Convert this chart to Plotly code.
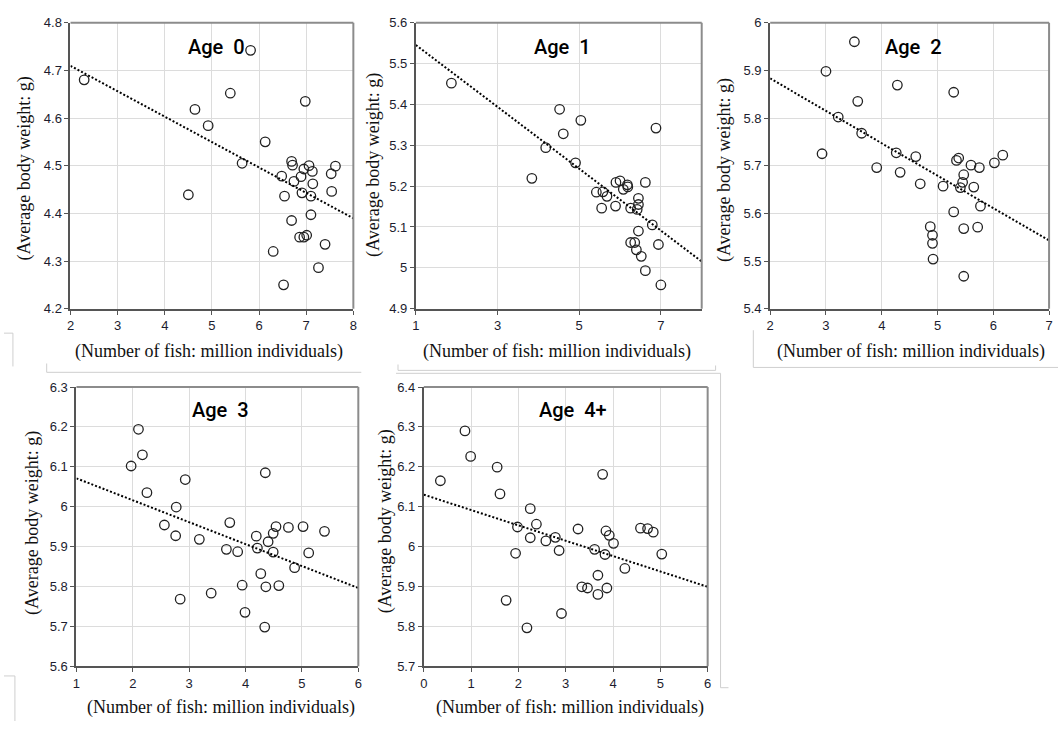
import plotly.graph_objects as go

W, H = 1062, 729

# ---- Age 0 ----
age0_fish = [2.29, 5.82, 4.64, 5.39, 4.92, 6.98, 6.13, 5.64, 4.50, 6.69, 6.71, 6.48,
             6.74, 6.89, 6.95, 7.06, 7.13, 7.14, 6.91, 6.54, 7.10, 7.53, 7.62, 7.54,
             7.10, 6.69, 6.86, 6.95, 7.01, 7.40, 6.30, 7.26, 6.52]
age0_weight = [4.680, 4.742, 4.618, 4.652, 4.584, 4.635, 4.550, 4.505, 4.439, 4.509, 4.501, 4.478,
               4.467, 4.477, 4.493, 4.500, 4.488, 4.462, 4.443, 4.436, 4.436, 4.483, 4.499, 4.446,
               4.397, 4.385, 4.350, 4.350, 4.354, 4.335, 4.320, 4.286, 4.250]
age0_trend = [4.816, -0.0533]   # intercept, slope

# ---- Age 1 ----
age1_fish = [1.87, 4.52, 5.04, 4.61, 4.18, 6.88, 3.84, 4.91, 5.90, 6.00, 6.18, 6.19,
             6.62, 6.08, 5.42, 5.58, 5.68, 6.45, 5.55, 5.89, 6.26, 6.45, 6.42, 6.79,
             6.45, 6.26, 6.36, 6.40, 6.52, 6.94, 6.62, 7.00]
age1_weight = [5.452, 5.388, 5.361, 5.328, 5.294, 5.342, 5.219, 5.257, 5.209, 5.213, 5.203, 5.198,
               5.209, 5.192, 5.185, 5.186, 5.175, 5.170, 5.146, 5.151, 5.146, 5.155, 5.143, 5.105,
               5.090, 5.062, 5.062, 5.044, 5.028, 5.057, 4.993, 4.958]
age1_trend = [5.621, -0.0757]

# ---- Age 2 ----
age2_fish = [3.51, 3.00, 4.28, 5.29, 3.57, 3.22, 3.64, 2.93, 4.26, 4.61, 3.91, 4.33,
             4.69, 5.10, 5.38, 5.34, 5.60, 5.75, 6.02, 6.17, 5.47, 5.45, 5.41, 5.65,
             5.77, 5.29, 4.87, 4.91, 4.91, 4.92, 5.47, 5.72, 5.47]
age2_weight = [5.960, 5.898, 5.869, 5.854, 5.835, 5.802, 5.768, 5.725, 5.727, 5.719, 5.696, 5.686,
               5.662, 5.657, 5.716, 5.711, 5.701, 5.696, 5.706, 5.722, 5.681, 5.665, 5.654, 5.655,
               5.615, 5.603, 5.572, 5.554, 5.537, 5.504, 5.568, 5.571, 5.468]
age2_trend = [6.019, -0.068]

# ---- Age 3 ----
age3_fish = [2.10, 2.17, 1.97, 2.93, 2.25, 4.35, 2.77, 2.56, 2.76, 3.18, 3.72, 3.66,
             3.86, 4.19, 4.21, 4.40, 4.49, 4.54, 4.76, 5.02, 5.40, 4.49, 4.87, 5.12,
             4.27, 3.94, 4.36, 4.59, 3.39, 2.84, 3.99, 4.34]
age3_weight = [6.194, 6.130, 6.102, 6.068, 6.035, 6.085, 5.999, 5.954, 5.927, 5.918, 5.960, 5.893,
               5.887, 5.926, 5.896, 5.912, 5.933, 5.950, 5.948, 5.950, 5.938, 5.886, 5.847, 5.884,
               5.832, 5.803, 5.799, 5.802, 5.783, 5.768, 5.735, 5.698]
age3_trend = [6.126, -0.055]

# ---- Age 4+ ----
age4_fish = [0.35, 0.87, 0.99, 1.55, 1.61, 2.25, 1.98, 2.38, 2.25, 2.58, 2.78, 2.86,
             1.94, 3.26, 3.85, 3.92, 4.01, 3.61, 3.83, 3.78, 4.58, 4.73, 4.85, 5.03,
             4.25, 3.68, 3.34, 3.46, 3.68, 3.87, 1.74, 2.91, 2.18]
age4_weight = [6.165, 6.290, 6.226, 6.199, 6.132, 6.095, 6.049, 6.056, 6.022, 6.014, 6.023, 5.990,
               5.983, 6.044, 6.039, 6.028, 6.008, 5.993, 5.980, 6.181, 6.046, 6.045, 6.036, 5.981,
               5.945, 5.928, 5.899, 5.896, 5.880, 5.896, 5.865, 5.832, 5.796]
age4_trend = [6.130, -0.0385]

panel_titles = ["Age  0", "Age  1", "Age  2", "Age  3", "Age  4+"]
x_title = "(Number of fish: million individuals)"
y_title = "(Average body weight: g)"

# panel geometry in pixels: plot-area box, axis ranges and tick steps
panels = [
    dict(fish=age0_fish, weight=age0_weight, trend=age0_trend,
         box=(67, 16, 352, 308), xr=(2, 8), xd=1, yr=(4.2, 4.8),
         title=(214, 41), ytitle=(21, 165), xtitle=(207, 352)),
    dict(fish=age1_fish, weight=age1_weight, trend=age1_trend,
         box=(415, 16, 703, 308), xr=(1, 8), xd=2, yr=(4.9, 5.6),
         title=(563, 41), ytitle=(372, 161), xtitle=(557, 352)),
    dict(fish=age2_fish, weight=age2_weight, trend=age2_trend,
         box=(772, 16, 1053, 308), xr=(2, 7), xd=1, yr=(5.4, 6.0),
         title=(916, 41), ytitle=(726, 167), xtitle=(914, 352)),
    dict(fish=age3_fish, weight=age3_weight, trend=age3_trend,
         box=(73, 388, 357, 673), xr=(1, 6), xd=1, yr=(5.6, 6.3),
         title=(218, 411), ytitle=(28, 527), xtitle=(219, 715)),
    dict(fish=age4_fish, weight=age4_weight, trend=age4_trend,
         box=(423, 388, 709, 673), xr=(0, 6), xd=1, yr=(5.7, 6.4),
         title=(573, 411), ytitle=(384, 525), xtitle=(570, 715)),
]


def px(x):
    return x / W


def py(y):
    return 1 - y / H


TICK_FONT = dict(family="Liberation Sans, Arial, sans-serif", size=13, color="#1c1c2e")
TITLE_FONT = dict(family="Roboto, Liberation Sans, sans-serif", size=20, color="#000000",
                  weight=500)
SERIF = dict(family="Liberation Serif, Times New Roman, serif", size=18, color="#111111")

fig = go.Figure()
annotations = []
shapes = []

for i, p in enumerate(panels, start=1):
    sx = "" if i == 1 else str(i)
    xa, ya = "x" + sx, "y" + sx
    x0, y0, x1, y1 = p["box"]

    fig.add_trace(go.Scatter(
        x=p["fish"], y=p["weight"], xaxis=xa, yaxis=ya, mode="markers",
        marker=dict(symbol="circle-open", size=9.5, color="#222222", line=dict(width=1.3)),
        showlegend=False, hoverinfo="x+y"))

    a, b = p["trend"]
    tx = list(p["xr"])
    fig.add_trace(go.Scatter(
        x=tx, y=[a + b * v for v in tx], xaxis=xa, yaxis=ya, mode="lines",
        line=dict(color="#000000", width=2, dash="2px,2px"),
        showlegend=False, hoverinfo="skip"))

    xk = "xaxis" + sx
    yk = "yaxis" + sx
    fig.layout[xk] = dict(
        domain=[px(x0), px(x1)], anchor=ya, range=list(p["xr"]),
        tick0=p["xr"][0], dtick=p["xd"], showgrid=True, gridcolor="#dcdcdc", gridwidth=1,
        showline=True, linecolor="#555555", linewidth=2, zeroline=False,
        ticks="outside", ticklen=4, tickcolor="#555555", tickwidth=1,
        tickfont=TICK_FONT, fixedrange=True)
    fig.layout[yk] = dict(
        domain=[py(y1), py(y0)], anchor=xa, range=list(p["yr"]),
        tick0=p["yr"][0], dtick=0.1, showgrid=True, gridcolor="#dcdcdc", gridwidth=1,
        showline=True, linecolor="#555555", linewidth=2, zeroline=False,
        ticks="outside", ticklen=4, tickcolor="#555555", tickwidth=1,
        tickfont=TICK_FONT, fixedrange=True)

    # top and right frame of the plot area
    shapes.append(dict(type="line", xref=xa + " domain", yref=ya + " domain",
                       x0=0, x1=1, y0=1, y1=1, line=dict(color="#8c8c8c", width=2)))
    shapes.append(dict(type="line", xref=xa + " domain", yref=ya + " domain",
                       x0=1, x1=1, y0=0, y1=1, line=dict(color="#8c8c8c", width=2)))

    tx_, ty_ = p["title"]
    annotations.append(dict(text=panel_titles[i - 1], x=px(tx_), y=py(ty_), xref="paper", yref="paper",
                            showarrow=False, xanchor="center", yanchor="middle", font=TITLE_FONT))
    yx, yy = p["ytitle"]
    annotations.append(dict(text=y_title, x=px(yx), y=py(yy), xref="paper", yref="paper",
                            showarrow=False, xanchor="center", yanchor="middle", textangle=-90,
                            font=SERIF))
    xx, xy = p["xtitle"]
    annotations.append(dict(text=x_title, x=px(xx), y=py(xy), xref="paper", yref="paper",
                            showarrow=False, xanchor="center", yanchor="middle", font=SERIF))

# light frame edges around the individual panels
frame_lines = [
    ((0, 333), (9, 333)), ((9, 333), (9, 367)),
    ((43, 364), (43, 373)), ((43, 373), (360, 373)),
    ((397, 365), (397, 371)), ((397, 371), (717, 371)), ((717, 366), (717, 371)),
    ((395, 374), (722, 374)), ((722, 374), (722, 695)), ((722, 695), (730, 695)),
    ((755, 330), (755, 368)), ((755, 368), (1062, 368)),
    ((0, 683), (11, 683)), ((11, 683), (11, 729)),
]
for (ax0, ay0), (ax1, ay1) in frame_lines:
    shapes.append(dict(type="line", xref="paper", yref="paper",
                       x0=px(ax0), y0=py(ay0), x1=px(ax1), y1=py(ay1),
                       line=dict(color="#cfcfcf", width=1)))

fig.update_layout(
    width=W, height=H, margin=dict(l=0, r=0, t=0, b=0),
    paper_bgcolor="white", plot_bgcolor="white",
    annotations=annotations, shapes=shapes, showlegend=False)

fig.write_html("out.html", config=dict(displayModeBar=False))
